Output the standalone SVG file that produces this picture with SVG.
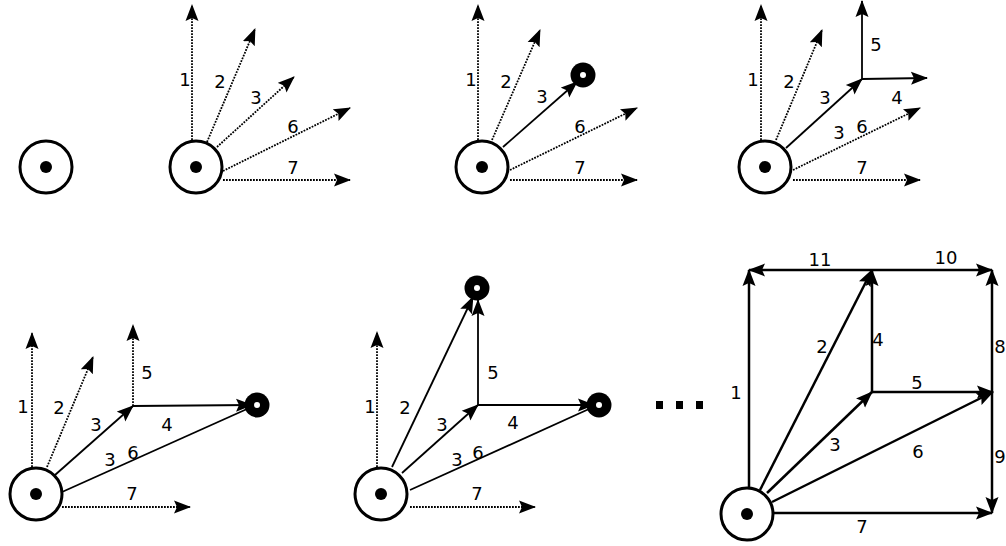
<svg xmlns="http://www.w3.org/2000/svg" width="1006" height="546" viewBox="0 0 1006 546">
<defs>
<style>
.src{fill:#fff;stroke:#000;stroke-width:3}
.dot{fill:#000}
.tgt{fill:#000}
.hole{fill:#fff}
.dt{fill:none;stroke:#000;stroke-width:1.8;stroke-dasharray:1.8 1.2;marker-end:url(#ah)}
.sl{fill:none;stroke:#000;stroke-width:1.8;marker-end:url(#ah)}
.sb{fill:none;stroke:#000;stroke-width:2.5;marker-end:url(#ah)}
.pl{fill:none;stroke:#000;stroke-width:1.8}
text{font-family:"DejaVu Sans","Liberation Sans",sans-serif;font-size:18px;fill:#000;text-anchor:middle}
</style>
<marker id="ah" markerUnits="userSpaceOnUse" markerWidth="17" markerHeight="14" viewBox="0 0 17 14" refX="16" refY="7" orient="auto">
<path d="M17,7 L0,0.5 L3,7 L0,13.5 Z" fill="#000" stroke="none"/>
</marker>
</defs>
<rect width="1006" height="546" fill="#fff"/>

<g id="node-p1"><circle class="src" cx="46" cy="167" r="26"/><circle class="dot" cx="46" cy="167" r="6"/></g>
<g id="node-p2"><circle class="src" cx="196" cy="167" r="26"/><circle class="dot" cx="196" cy="167" r="6"/></g>
<g id="node-p3"><circle class="src" cx="482" cy="167" r="26"/><circle class="dot" cx="482" cy="167" r="6"/></g>
<g id="target-p3"><circle class="tgt" cx="583" cy="75" r="12.5"/><circle class="hole" cx="583" cy="75" r="3"/></g>
<g id="node-p4"><circle class="src" cx="765" cy="167" r="26"/><circle class="dot" cx="765" cy="167" r="6"/></g>
<g id="node-p5"><circle class="src" cx="36" cy="494" r="26"/><circle class="dot" cx="36" cy="494" r="6"/></g>
<g id="target-p5"><circle class="tgt" cx="257" cy="405" r="12.5"/><circle class="hole" cx="257" cy="405" r="3"/></g>
<g id="node-p6"><circle class="src" cx="381" cy="494" r="26"/><circle class="dot" cx="381" cy="494" r="6"/></g>
<g id="target-p6a"><circle class="tgt" cx="477" cy="288" r="12.5"/><circle class="hole" cx="477" cy="288" r="3"/></g>
<g id="target-p6b"><circle class="tgt" cx="599" cy="405" r="12.5"/><circle class="hole" cx="599" cy="405" r="3"/></g>
<g id="node-p7"><circle class="src" cx="747" cy="514" r="26"/><circle class="dot" cx="747" cy="514" r="6"/></g>

<g id="connectors">
<!-- panel 2 -->
<path class="dt" d="M192,140 L192,5"/>
<path class="dt" d="M207,142 L255,29"/>
<path class="dt" d="M217,147 L294,77"/>
<path class="dt" d="M223,171 L350,108"/>
<path class="dt" d="M223,180 L350,180"/>
<!-- panel 3 -->
<path class="dt" d="M478,140 L478,5"/>
<path class="dt" d="M492,140 L540,30"/>
<path class="sl" d="M503,147 L577,82"/>
<path class="dt" d="M510,170 L637,108"/>
<path class="dt" d="M510,180 L637,180"/>
<!-- panel 4 -->
<path class="dt" d="M761,140 L761,5"/>
<path class="dt" d="M776,140 L822,30"/>
<path class="sl" d="M786,148 L862,79"/>
<path class="sl" d="M862,79 L862,1"/>
<path class="sl" d="M862,79 L927,78"/>
<path class="dt" d="M793,170 L920,108"/>
<path class="dt" d="M793,180 L920,180"/>
<!-- panel 5 -->
<path class="dt" d="M32,467 L32,333"/>
<path class="dt" d="M47,467 L93,357"/>
<path class="sl" d="M55,475 L133,406"/>
<path class="dt" d="M133,406 L133,325"/>
<path class="sl" d="M133,406 L252,405"/>
<path class="pl" d="M62,492 L247,409"/>
<path class="dt" d="M62,507 L190,507"/>
<!-- panel 6 -->
<path class="dt" d="M377,467 L377,332"/>
<path class="sl" d="M392,467 L473,297"/>
<path class="sl" d="M478,405 L478,300"/>
<path class="sl" d="M402,473 L478,405"/>
<path class="sl" d="M478,405 L594,405"/>
<path class="pl" d="M410,490 L589,409"/>
<path class="dt" d="M410,507 L535,507"/>
<!-- panel 7 -->
<path class="sb" d="M749,487 L749,270"/>
<path class="sb" d="M872,270 L749,270"/>
<path class="sb" d="M872,270 L992,270"/>
<path class="sb" d="M760,490 L872,270"/>
<path class="sb" d="M872,392 L872,270"/>
<path class="sb" d="M767,493 L872,392"/>
<path class="sb" d="M872,392 L993,392"/>
<path class="sb" d="M772,502 L993,392"/>
<path class="sb" d="M992,392 L992,270"/>
<path class="sb" d="M992,392 L992,513"/>
<path class="sb" d="M774,513 L992,513"/>
</g>

<g id="labels">
<text x="185" y="86">1</text>
<text x="220" y="88">2</text>
<text x="256" y="104">3</text>
<text x="293" y="133">6</text>
<text x="293" y="174">7</text>

<text x="471" y="86">1</text>
<text x="506" y="88">2</text>
<text x="542" y="103">3</text>
<text x="580" y="133">6</text>
<text x="580" y="174">7</text>

<text x="753" y="86">1</text>
<text x="789" y="88">2</text>
<text x="825" y="104">3</text>
<text x="876" y="51">5</text>
<text x="897" y="104">4</text>
<text x="839" y="139">3</text>
<text x="862" y="133">6</text>
<text x="862" y="174">7</text>

<text x="23" y="413">1</text>
<text x="59" y="414">2</text>
<text x="96" y="431">3</text>
<text x="147" y="379">5</text>
<text x="167" y="431">4</text>
<text x="110" y="466">3</text>
<text x="133" y="459">6</text>
<text x="132" y="500">7</text>

<text x="370" y="413">1</text>
<text x="405" y="414">2</text>
<text x="442" y="431">3</text>
<text x="493" y="379">5</text>
<text x="513" y="429">4</text>
<text x="457" y="466">3</text>
<text x="478" y="459">6</text>
<text x="477" y="500">7</text>

<text x="736" y="399">1</text>
<text x="822" y="353">2</text>
<text x="835" y="451">3</text>
<text x="878" y="346">4</text>
<text x="917" y="389">5</text>
<text x="918" y="458">6</text>
<text x="862" y="533">7</text>
<text x="1000" y="353">8</text>
<text x="1000" y="463">9</text>
<text x="946" y="264">10</text>
<text x="820" y="266">11</text>
</g>

<g id="ellipsis">
<rect x="656" y="401" width="7" height="8"/>
<rect x="676" y="401" width="7" height="8"/>
<rect x="696" y="401" width="7" height="8"/>
</g>
</svg>
